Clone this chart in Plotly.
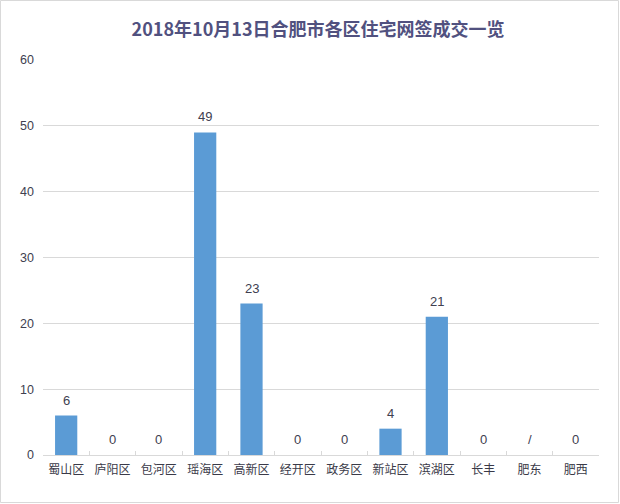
import plotly.graph_objects as go

categories = ["蜀山区", "庐阳区", "包河区", "瑶海区", "高新区", "经开区",
              "政务区", "新站区", "滨湖区", "长丰", "肥东", "肥西"]
values = [6, 0, 0, 49, 23, 0, 0, 4, 21, 0, None, 0]
labels = ["6", "0", "0", "49", "23", "0", "0", "4", "21", "0", "/", "0"]
y_ticks = [0, 10, 20, 30, 40, 50, 60]

W, H = 620, 504
ml, mr, mt, mb = 43, 21, 60, 49
pw, ph = W - ml - mr, H - mt - mb

bar_y = [v if v is not None else 0 for v in values]

fig = go.Figure()
fig.add_trace(go.Bar(
    x=categories, y=bar_y,
    marker=dict(color="#5b9bd5", line=dict(width=0)),
    hoverinfo="skip",
))

annotations = [
    dict(x=c, y=v, text=t, xref="x", yref="y", showarrow=False,
         yanchor="bottom", yshift=6,
         font=dict(size=13, color="#404050", family="Liberation Sans, Arial"))
    for c, v, t in zip(categories, bar_y, labels)
]

fig.update_layout(
    width=W, height=H,
    margin=dict(l=ml, r=mr, t=mt, b=mb),
    paper_bgcolor="white", plot_bgcolor="white",
    showlegend=False,
    bargap=0.52,
    annotations=annotations,
    title=dict(text="<b>2018年10月13日合肥市各区住宅网签成交一览</b>",
               x=0.513, xanchor="center", y=0.942, yanchor="middle",
               font=dict(size=18, color="#51517f",
                         family="Noto Sans CJK SC, Liberation Sans")),
    font=dict(family="Noto Sans CJK SC, Liberation Sans", color="#404050"),
    xaxis=dict(
        showline=True, linecolor="#d9d9d9", linewidth=1,
        ticks="inside", tickson="boundaries", ticklen=4, tickcolor="#d9d9d9",
        tickfont=dict(size=12, color="#3a3a48"),
        ticklabelstandoff=4,
        showgrid=False, fixedrange=True,
    ),
    yaxis=dict(
        range=[0, 60], tickvals=y_ticks,
        showgrid=True, gridcolor="#d9d9d9", gridwidth=1,
        zeroline=False, showline=False,
        tickfont=dict(size=12.5, color="#404050",
                      family="Liberation Sans, Arial"),
        ticklabelstandoff=8,
    ),
    shapes=[dict(type="rect", xref="paper", yref="paper",
                 x0=(-ml + 0.5) / pw, x1=(W - ml - 1.5) / pw,
                 y0=(-mb + 1.5) / ph, y1=(H - mb - 0.5) / ph,
                 line=dict(color="#d9d9d9", width=1), layer="below")],
)

fig.write_html("out.html",
               config={"displayModeBar": False, "staticPlot": True},
               post_script="document.body.style.margin='0px';"
                           "document.body.style.overflow='hidden';")
